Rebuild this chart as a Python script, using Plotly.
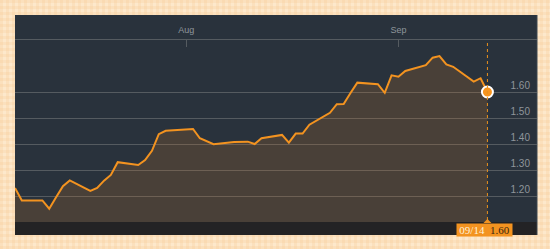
import plotly.graph_objects as go

dates = ["2016-07-07", "2016-07-08", "2016-07-11", "2016-07-12", "2016-07-13", "2016-07-14", "2016-07-15",
         "2016-07-18", "2016-07-19", "2016-07-20", "2016-07-21", "2016-07-22",
         "2016-07-25", "2016-07-26", "2016-07-27", "2016-07-28", "2016-07-29",
         "2016-08-01", "2016-08-02", "2016-08-03", "2016-08-04", "2016-08-05",
         "2016-08-08", "2016-08-09", "2016-08-10", "2016-08-11", "2016-08-12",
         "2016-08-15", "2016-08-16", "2016-08-17", "2016-08-18", "2016-08-19",
         "2016-08-22", "2016-08-23", "2016-08-24", "2016-08-25", "2016-08-26",
         "2016-08-29", "2016-08-30", "2016-08-31", "2016-09-01", "2016-09-02",
         "2016-09-05", "2016-09-06", "2016-09-07", "2016-09-08", "2016-09-09",
         "2016-09-12", "2016-09-13", "2016-09-14"]
values = [1.231, 1.183, 1.183, 1.151, 1.195, 1.238, 1.260,
          1.220, 1.231, 1.259, 1.281, 1.330,
          1.319, 1.338, 1.374, 1.438, 1.451,
          1.455, 1.458, 1.422, 1.410, 1.399,
          1.408, 1.409, 1.409, 1.400, 1.422,
          1.435, 1.405, 1.440, 1.440, 1.474,
          1.520, 1.553, 1.554, 1.596, 1.636,
          1.630, 1.597, 1.664, 1.659, 1.681,
          1.703, 1.732, 1.738, 1.706, 1.697,
          1.640, 1.653, 1.600]

month_ticks = ["2016-08-01", "2016-09-01"]
month_labels = ["Aug", "Sep"]
y_ticks = [1.20, 1.30, 1.40, 1.50, 1.60]
y_labels = ["1.20", "1.30", "1.40", "1.50", "1.60"]

last_label_date = "09/14"
last_label_value = "1.60"

x_range = ["2016-07-07", "2016-09-21 05:45"]
y_range = [1.10, 1.80]

PANEL = "#29323c"
GRID = "#555b60"
TXT = "#8f959b"
ORANGE = "#f39320"

fig = go.Figure()
fig.add_trace(go.Scatter(
    x=dates, y=values, mode="lines",
    line=dict(color=ORANGE, width=2),
    fill="tozeroy", fillcolor="rgba(206,120,40,0.2)",
    hoverinfo="skip",
))
fig.add_trace(go.Scatter(
    x=[dates[-1]], y=[values[-1]], mode="markers",
    marker=dict(color="#f7941d", size=11, line=dict(color="white", width=2)),
    hoverinfo="skip", cliponaxis=False,
))

W = 550 - 15 - 13
H = 249 - 40 - 27

def px_x(p):
    return (p - 15) / W

def px_y(p):
    return (222 - p) / H

# plaid background pattern (decoration)
shapes = []
for p in range(0, 550, 6):
    shapes.append(dict(type="rect", xref="paper", yref="paper",
                       x0=px_x(p), x1=px_x(p + 3), y0=px_y(249), y1=px_y(0),
                       fillcolor="rgba(248,196,140,0.22)", line=dict(width=0), layer="below"))
for p in range(0, 249, 6):
    shapes.append(dict(type="rect", xref="paper", yref="paper",
                       x0=px_x(0), x1=px_x(550), y0=px_y(p + 3), y1=px_y(p),
                       fillcolor="rgba(248,196,140,0.22)", line=dict(width=0), layer="below"))

shapes += [
    dict(type="rect", xref="paper", yref="paper", x0=0, x1=1,
         y0=px_y(235), y1=px_y(15),
         fillcolor=PANEL, line=dict(width=0), layer="below"),
    dict(type="rect", xref="paper", yref="paper", x0=0, x1=1,
         y0=px_y(235), y1=0,
         fillcolor="#232325", line=dict(width=0), layer="below"),
    dict(type="line", xref="paper", yref="paper", x0=1, x1=1,
         y0=px_y(235), y1=px_y(15),
         line=dict(color="#3c4650", width=1), layer="below"),
    dict(type="line", xref="x", yref="paper", x0=dates[-1], x1=dates[-1],
         y0=px_y(220), y1=1,
         line=dict(color="#e8901e", width=1, dash="dot")),
    dict(type="path", xref="x", yref="paper", xsizemode="pixel", ysizemode="pixel",
         xanchor=dates[-1], yanchor=0,
         path="M-4,-1 L4,-1 L0,3 Z", fillcolor=ORANGE, line=dict(width=0)),
]

annotations = [
    dict(x=dates[-1], y=0, xref="x", yref="paper", xanchor="center", yanchor="top",
         xshift=-3, yshift=-1, showarrow=False, width=55, height=12, borderpad=0,
         bgcolor=ORANGE,
         text=f"<span style='color:#fff1d8'>{last_label_date}</span>&nbsp;&nbsp;<span style='color:#3a2810'>{last_label_value}</span>",
         font=dict(family="Liberation Serif", size=11)),
]

fig.update_layout(
    width=550, height=249,
    margin=dict(l=15, r=13, t=40, b=27),
    paper_bgcolor="#fde8cb",
    plot_bgcolor="rgba(0,0,0,0)",
    showlegend=False,
    shapes=shapes,
    annotations=annotations,
    xaxis=dict(
        type="date", range=x_range, side="top",
        tickvals=month_ticks, ticktext=month_labels,
        ticks="inside", ticklen=7, tickcolor=GRID, tickwidth=1,
        showline=True, linecolor=GRID, linewidth=1,
        showgrid=False, zeroline=False,
        tickfont=dict(family="Liberation Sans", size=9, color=TXT),
        ticklabelstandoff=2,
        fixedrange=True,
    ),
    yaxis=dict(
        range=y_range, side="right",
        tickvals=y_ticks, ticktext=y_labels,
        ticklabelposition="inside top",
        ticklabelstandoff=4,
        showgrid=True, gridcolor=GRID, gridwidth=1,
        zeroline=False, showline=False, ticks="",
        tickfont=dict(family="Liberation Sans", size=10, color=TXT),
        fixedrange=True,
    ),
)

fig.write_html("out.html")
